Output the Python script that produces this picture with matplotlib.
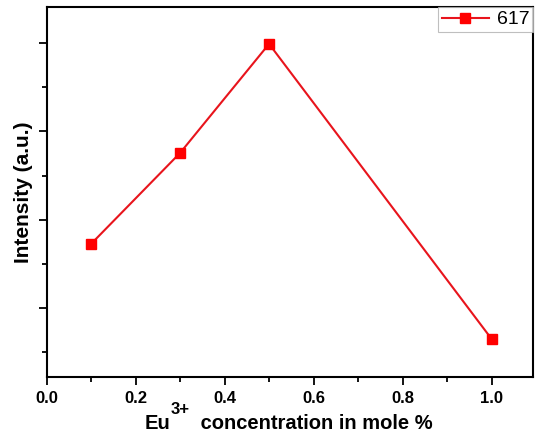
import matplotlib
matplotlib.use("Agg")
import matplotlib.pyplot as plt
from matplotlib.ticker import MultipleLocator, NullFormatter

plt.rcParams['font.family'] = ['Liberation Sans', 'DejaVu Sans']

conc = [0.1, 0.3, 0.5, 1.0]
intensity_617 = [1725, 2755, 3990, 649]

fig = plt.figure(figsize=(5.37, 4.37), dpi=100)
ax = fig.add_axes([0.0866, 0.1373, 0.906, 0.8467])

ax.plot(conc, intensity_617, color='#e8141c', lw=1.5, marker='s', ms=6.5,
        mfc='#ff0000', mec='#ff0000', label='617')

ax.set_xlim(0, 1.093)
ax.set_ylim(219, 4408)

ax.xaxis.set_major_locator(MultipleLocator(0.2))
ax.xaxis.set_minor_locator(MultipleLocator(0.1))
ax.yaxis.set_major_locator(MultipleLocator(1000))
ax.yaxis.set_minor_locator(MultipleLocator(500))
ax.yaxis.set_major_formatter(NullFormatter())

ax.tick_params(which='major', direction='out', length=6, width=1.3)
ax.tick_params(which='minor', direction='out', length=3.5, width=1.3)
ax.tick_params(axis='x', labelsize=12, pad=4)
for lbl in ax.get_xticklabels():
    lbl.set_fontweight('bold')

for sp in ax.spines.values():
    sp.set_linewidth(1.5)

# x label built in pieces so the superscript can be larger than mathtext's
base_y = -0.1397
t1 = ax.annotate('Eu', xy=(0.2025, base_y), xycoords='axes fraction',
                 fontsize=14.5, fontweight='bold', va='baseline', ha='left',
                 annotation_clip=False)
t2 = ax.annotate('3+', xy=(1, base_y + 0.04), xycoords=(t1, 'axes fraction'),
                 fontsize=12, fontweight='bold', va='baseline', ha='left',
                 annotation_clip=False)
t3 = ax.annotate(' concentration in mole %', xy=(1, base_y),
                 xycoords=(t2, 'axes fraction'), xytext=(4, 0),
                 textcoords='offset points', fontsize=14.5, fontweight='bold',
                 va='baseline', ha='left', annotation_clip=False)

ax.set_ylabel('Intensity (a.u.)', fontsize=15, fontweight='bold', labelpad=0)

leg = ax.legend(loc='upper right', fontsize=14, frameon=True, fancybox=False,
                borderaxespad=0, handlelength=2.4, borderpad=0.2,
                handletextpad=0.4)
leg.get_frame().set_edgecolor('#b0b0b0')
leg.get_frame().set_linewidth(0.8)

fig.savefig('out.png', dpi=100)
